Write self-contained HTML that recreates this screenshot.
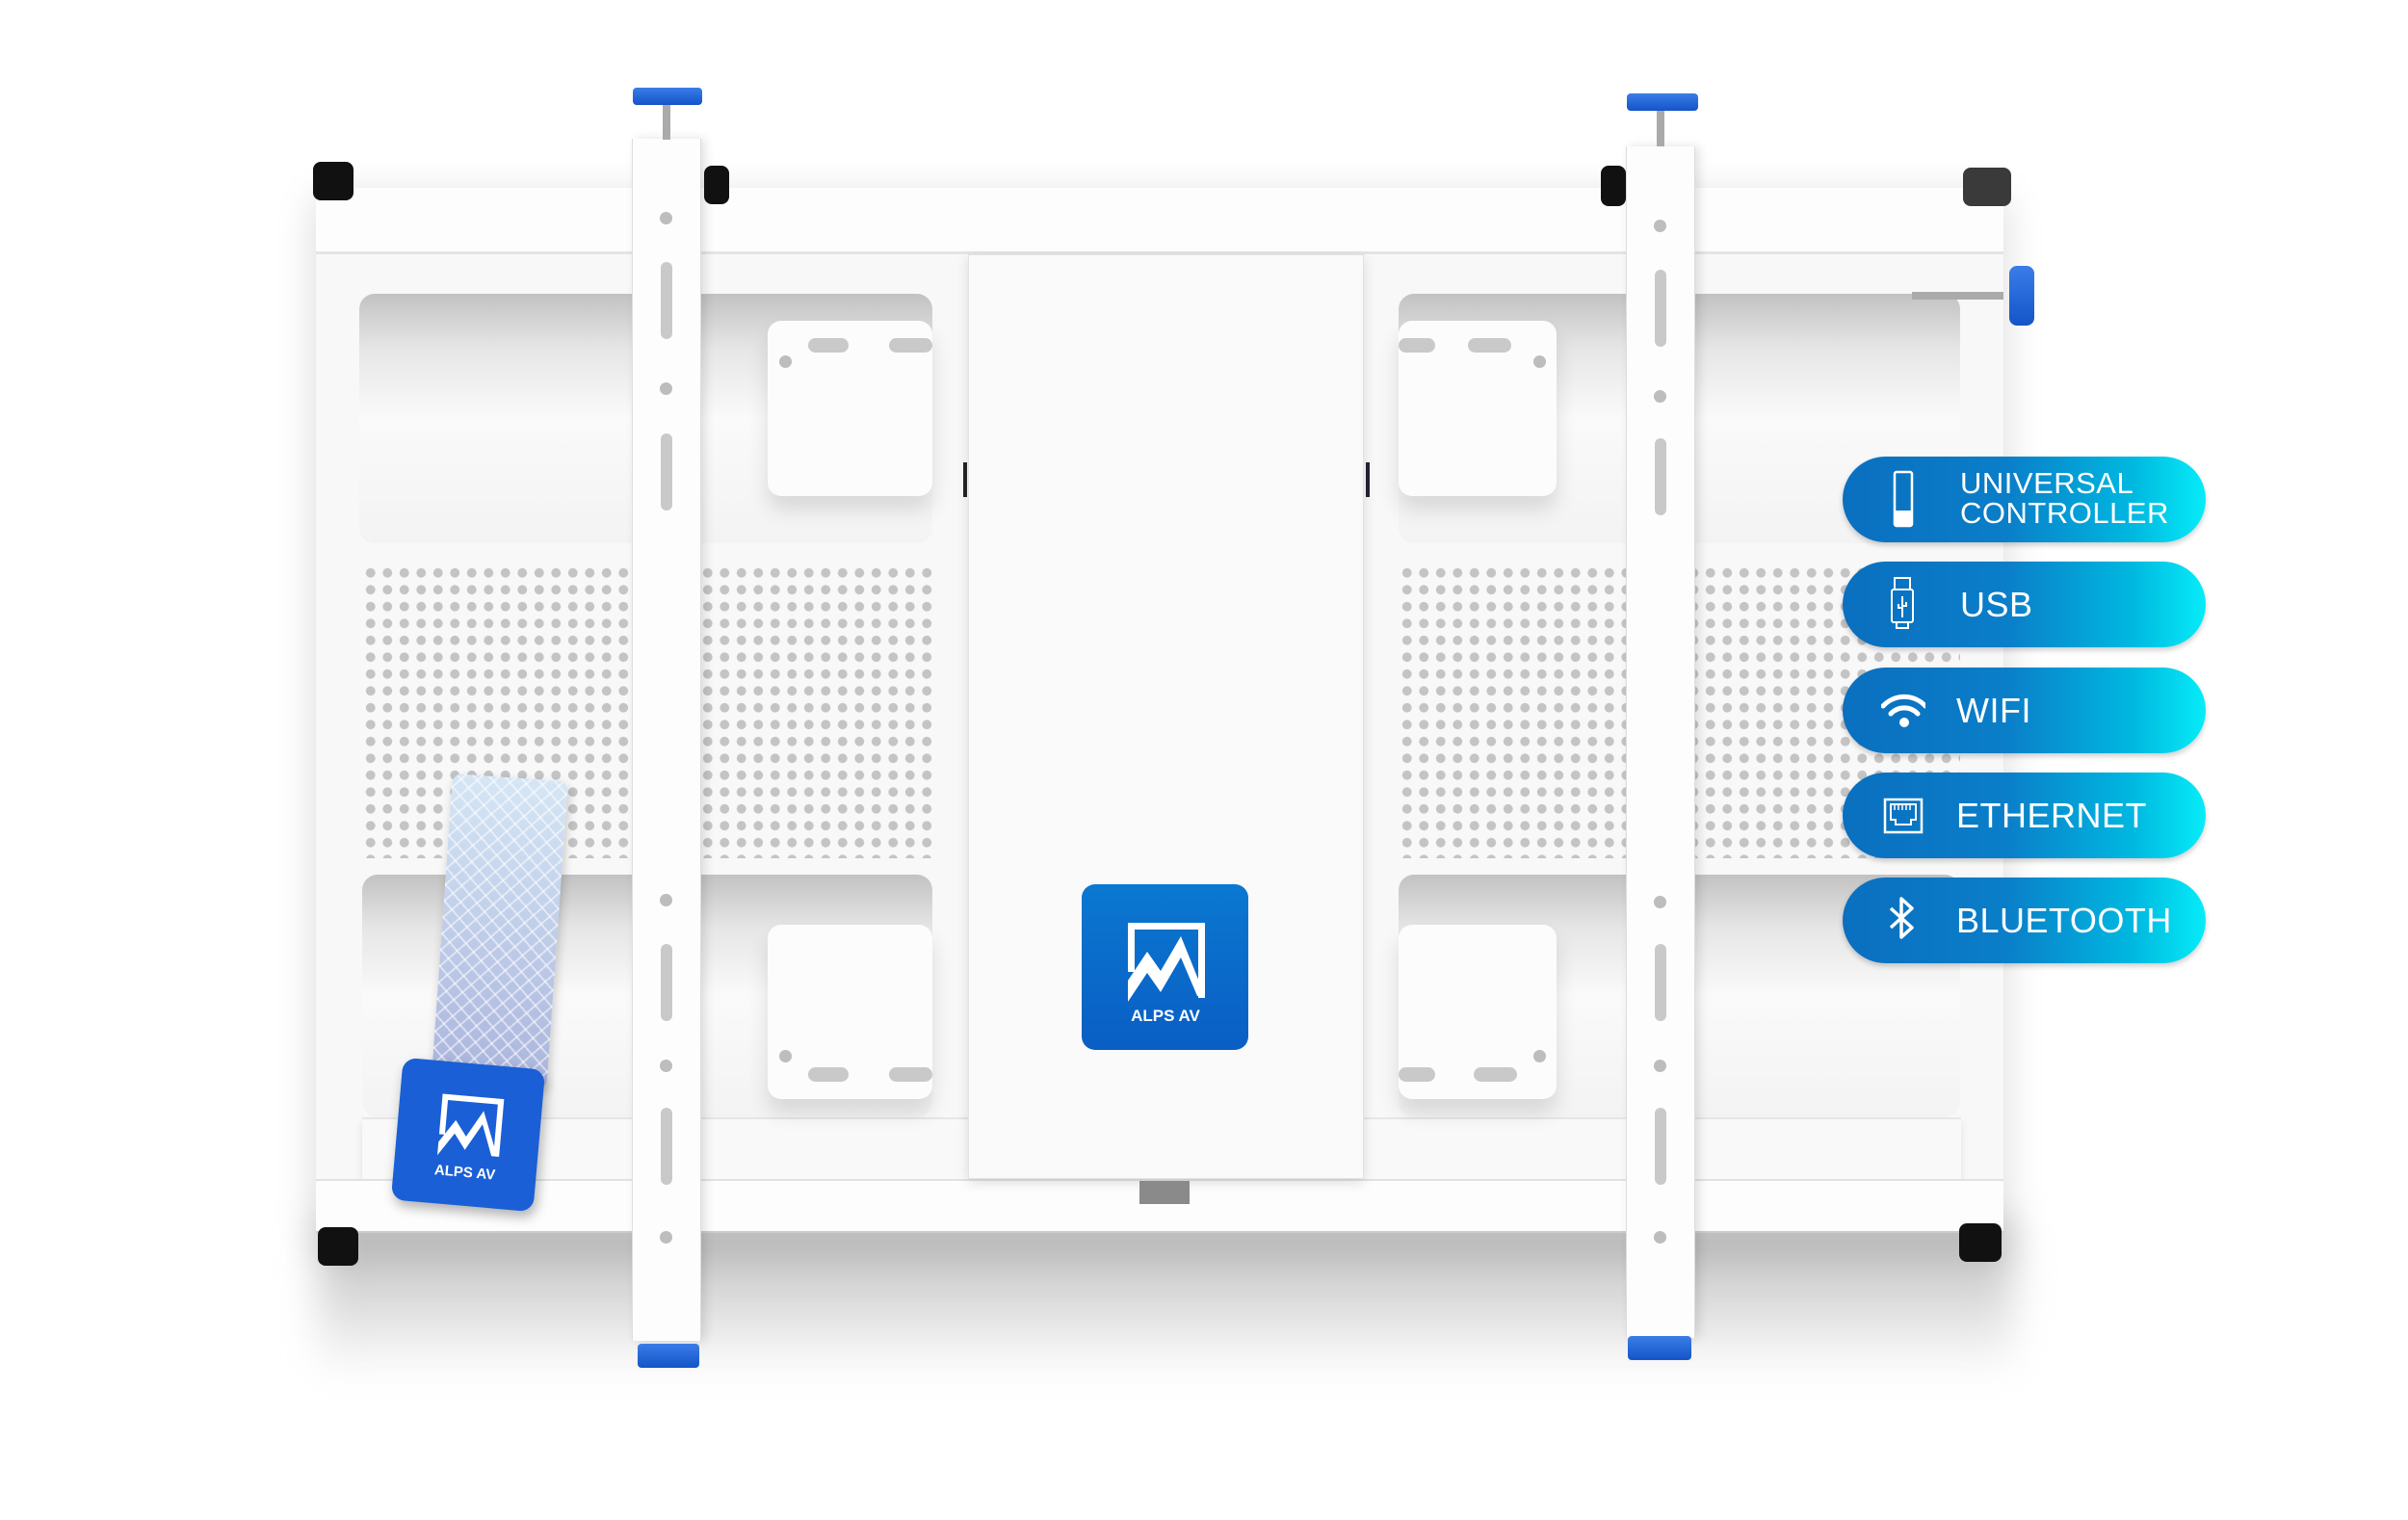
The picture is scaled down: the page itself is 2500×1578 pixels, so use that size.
<!DOCTYPE html>
<html><head><meta charset="utf-8"><style>
*{margin:0;padding:0;box-sizing:border-box}
body{width:2500px;height:1578px;background:#fff;position:relative;overflow:hidden;font-family:"Liberation Sans",sans-serif}
.a{position:absolute}
.open{position:absolute;border-radius:16px;background:linear-gradient(180deg,#c2c2c2 0%,#e6e6e6 22%,#fafafa 50%,#f3f3f3 100%)}
.dots{position:absolute;background-image:radial-gradient(circle,#c4c4c4 4.5px,transparent 5.2px);background-size:17.5px 17.5px}
.br{position:absolute;background:#fcfcfc;border-radius:14px;box-shadow:0 14px 22px rgba(0,0,0,.12)}
.slot{position:absolute;background:#c9c9c9;border-radius:10px}
.hole{position:absolute;background:#bdbdbd;border-radius:50%}
.rail{position:absolute;background:#fdfdfd;border-left:1px solid #ddd;border-right:1px solid #ddd;box-shadow:4px 0 10px rgba(0,0,0,.12)}
.foot{position:absolute;background:#111;border-radius:8px}
.knob{position:absolute;background:linear-gradient(#3a7de8,#1454c8);border-radius:4px}
.pill{position:absolute;left:1913px;width:377px;height:89px;border-radius:45px;background:linear-gradient(90deg,#0a6fbf 0%,#0a7ec9 45%,#00b8e0 80%,#06ecf8 100%);color:#fff;box-shadow:0 3px 6px rgba(0,0,0,.2)}
.pill span{position:absolute;left:122px;font-size:36px;letter-spacing:0.5px}
.ic{position:absolute;left:40px;top:14px;width:46px;height:60px}
</style></head><body>
<div class="a" style="left:330px;top:1270px;width:1760px;height:160px;background:linear-gradient(#b9b9b9,rgba(255,255,255,0));filter:blur(20px)"></div>
<div class="a" style="left:328px;top:195px;width:1752px;height:1085px;background:#f8f8f8;box-shadow:0 10px 40px rgba(0,0,0,.15)"></div>
<div class="a" style="left:328px;top:195px;width:1752px;height:69px;background:#fdfdfd;border-bottom:3px solid #e4e4e4"></div>
<div class="open" style="left:373px;top:305px;width:595px;height:259px"></div>
<div class="open" style="left:1452px;top:305px;width:583px;height:259px"></div>
<div class="dots" style="left:376px;top:586px;width:592px;height:305px"></div>
<div class="dots" style="left:1452px;top:586px;width:583px;height:305px"></div>
<div class="open" style="left:376px;top:908px;width:592px;height:252px"></div>
<div class="open" style="left:1452px;top:908px;width:583px;height:252px"></div>
<div class="a" style="left:376px;top:1160px;width:1660px;height:64px;background:#f9f9f9;border-top:2px solid #e6e6e6;box-shadow:0 6px 8px rgba(0,0,0,.1)"></div>
<div class="a" style="left:328px;top:1224px;width:1752px;height:56px;background:#fdfdfd;border-top:2px solid #e2e2e2;border-bottom:2px solid #ccc"></div>
<div class="br" style="left:797px;top:333px;width:171px;height:182px"><div class="slot" style="left:42px;top:18px;width:42px;height:15px"></div><div class="slot" style="left:126px;top:18px;width:45px;height:15px"></div><div class="hole" style="left:12px;top:36px;width:13px;height:13px"></div></div>
<div class="br" style="left:1452px;top:333px;width:164px;height:182px"><div class="slot" style="left:0;top:18px;width:38px;height:15px"></div><div class="slot" style="left:72px;top:18px;width:45px;height:15px"></div><div class="hole" style="left:140px;top:36px;width:13px;height:13px"></div></div>
<div class="br" style="left:797px;top:960px;width:171px;height:181px"><div class="slot" style="left:42px;top:148px;width:42px;height:15px"></div><div class="slot" style="left:126px;top:148px;width:45px;height:15px"></div><div class="hole" style="left:12px;top:130px;width:13px;height:13px"></div></div>
<div class="br" style="left:1452px;top:960px;width:164px;height:181px"><div class="slot" style="left:0;top:148px;width:38px;height:15px"></div><div class="slot" style="left:78px;top:148px;width:45px;height:15px"></div><div class="hole" style="left:140px;top:130px;width:13px;height:13px"></div></div>
<div class="a" style="left:1005px;top:264px;width:411px;height:960px;background:#fafafa;border:1px solid #e2e2e2;box-shadow:0 4px 12px rgba(0,0,0,.12)"></div>
<div class="a" style="left:1000px;top:480px;width:4px;height:36px;background:#222"></div>
<div class="a" style="left:1418px;top:480px;width:4px;height:36px;background:#223"></div>
<div class="a" style="left:1183px;top:1226px;width:52px;height:24px;background:#8a8a8a"></div>
<div class="a" style="left:1123px;top:918px;width:173px;height:172px;border-radius:14px;background:linear-gradient(180deg,#0a78d0,#0a5ec4)">
<svg width="173" height="172" viewBox="0 0 173 172"><path d="M48 40h80v78h-7V47H55v44h-7z" fill="#fff"/><path d="M48 100l20-30 14 20 21-36 25 62h-8l-17-40-21 36-14-20-20 30z" fill="#fff"/>
<text x="87" y="142" fill="#fff" font-family="Liberation Sans" font-weight="bold" font-size="17" text-anchor="middle">ALPS AV</text></svg></div>
<div class="rail" style="left:656px;top:144px;width:72px;height:1248px"></div>
<div class="rail" style="left:1688px;top:152px;width:72px;height:1237px"></div>
<div class="hole" style="left:685px;top:220px;width:13px;height:13px"></div>
<div class="slot" style="left:686px;top:272px;width:12px;height:80px"></div>
<div class="hole" style="left:685px;top:397px;width:13px;height:13px"></div>
<div class="slot" style="left:686px;top:450px;width:12px;height:80px"></div>
<div class="hole" style="left:685px;top:928px;width:13px;height:13px"></div>
<div class="slot" style="left:686px;top:980px;width:12px;height:80px"></div>
<div class="hole" style="left:685px;top:1100px;width:13px;height:13px"></div>
<div class="slot" style="left:686px;top:1150px;width:12px;height:80px"></div>
<div class="hole" style="left:685px;top:1278px;width:13px;height:13px"></div>
<div class="hole" style="left:1717px;top:228px;width:13px;height:13px"></div>
<div class="slot" style="left:1718px;top:280px;width:12px;height:80px"></div>
<div class="hole" style="left:1717px;top:405px;width:13px;height:13px"></div>
<div class="slot" style="left:1718px;top:455px;width:12px;height:80px"></div>
<div class="hole" style="left:1717px;top:930px;width:13px;height:13px"></div>
<div class="slot" style="left:1718px;top:980px;width:12px;height:80px"></div>
<div class="hole" style="left:1717px;top:1100px;width:13px;height:13px"></div>
<div class="slot" style="left:1718px;top:1150px;width:12px;height:80px"></div>
<div class="hole" style="left:1717px;top:1278px;width:13px;height:13px"></div>
<div class="a" style="left:688px;top:105px;width:8px;height:40px;background:#aaa"></div>
<div class="knob" style="left:657px;top:91px;width:72px;height:18px"></div>
<div class="a" style="left:1720px;top:112px;width:8px;height:40px;background:#aaa"></div>
<div class="knob" style="left:1689px;top:97px;width:74px;height:18px"></div>
<div class="knob" style="left:662px;top:1395px;width:64px;height:25px"></div>
<div class="knob" style="left:1690px;top:1387px;width:66px;height:25px"></div>
<div class="foot" style="left:325px;top:168px;width:42px;height:40px"></div>
<div class="foot" style="left:330px;top:1274px;width:42px;height:40px"></div>
<div class="foot" style="left:2034px;top:1270px;width:44px;height:40px"></div>
<div class="foot" style="left:2038px;top:174px;width:50px;height:40px;background:#3a3a3a"></div>
<div class="foot" style="left:731px;top:172px;width:26px;height:40px"></div>
<div class="foot" style="left:1662px;top:172px;width:26px;height:42px"></div>
<div class="a" style="left:1985px;top:303px;width:95px;height:8px;background:#aaa"></div>
<div class="knob" style="left:2086px;top:276px;width:26px;height:62px;border-radius:8px"></div>
<div class="a" style="left:470px;top:803px;width:120px;height:320px;border-radius:10px;transform:rotate(4deg);transform-origin:top left;background:repeating-linear-gradient(45deg,rgba(255,255,255,.5) 0 2px,transparent 2px 12px),repeating-linear-gradient(-45deg,rgba(255,255,255,.5) 0 2px,transparent 2px 12px),linear-gradient(#d5e6f5,#aab4dc);box-shadow:2px 4px 10px rgba(0,0,0,.2)"></div>
<div class="a" style="left:412px;top:1104px;width:148px;height:148px;border-radius:14px;transform:rotate(5deg);background:#1a5fd6;box-shadow:3px 6px 12px rgba(0,0,0,.3)">
<svg width="148" height="148" viewBox="0 0 148 148"><path d="M44 34h64v60h-6V40H50v36h-6z" fill="#fff"/><path d="M44 84l16-24 12 16 16-28 18 46h-6l-12-32-16 28-12-16-16 24z" fill="#fff"/>
<text x="74" y="118" fill="#fff" font-family="Liberation Sans" font-weight="bold" font-size="15" text-anchor="middle">ALPS AV</text></svg></div>
<div class="pill" style="top:474px"><svg class="ic" viewBox="0 0 46 60"><rect x="14" y="2" width="18" height="56" rx="2" fill="none" stroke="#fff" stroke-width="2.5"/><rect x="14" y="42" width="18" height="16" fill="#fff"/></svg><span style="top:12px;font-size:31px;line-height:31px">UNIVERSAL<br>CONTROLLER</span></div>
<div class="pill" style="top:583px"><svg class="ic" viewBox="0 0 46 60"><rect x="14" y="3" width="16" height="12" fill="none" stroke="#fff" stroke-width="2"/><rect x="11" y="15" width="22" height="34" rx="2" fill="none" stroke="#fff" stroke-width="2"/><rect x="16" y="49" width="12" height="6" fill="none" stroke="#fff" stroke-width="2"/><path d="M22 22v22M18 30v4h4M26 28v4h-4" stroke="#fff" stroke-width="2" fill="none"/></svg><span style="top:24px">USB</span></div>
<div class="pill" style="top:693px"><svg class="ic" viewBox="0 0 46 60"><path d="M2 26a30 30 0 0 1 44 0M10 34a19 19 0 0 1 28 0" stroke="#fff" stroke-width="5" fill="none" stroke-linecap="round"/><circle cx="24" cy="43" r="5" fill="#fff"/></svg><span style="top:24px;left:118px">WIFI</span></div>
<div class="pill" style="top:802px"><svg class="ic" viewBox="0 0 46 60"><rect x="4" y="14" width="38" height="34" fill="none" stroke="#fff" stroke-width="2.5"/><path d="M10 19h26v16h-5v5h-16v-5h-5z" fill="none" stroke="#fff" stroke-width="2"/><path d="M14 19v6M18 19v6M22 19v6M26 19v6M30 19v6" stroke="#fff" stroke-width="1.5"/></svg><span style="top:24px;left:118px">ETHERNET</span></div>
<div class="pill" style="top:911px"><svg class="ic" viewBox="0 0 46 60"><path d="M10 18l22 20-11 10V8l11 10-22 20" stroke="#fff" stroke-width="3.5" fill="none" stroke-linejoin="round"/></svg><span style="top:24px;left:118px">BLUETOOTH</span></div>
</body></html>
